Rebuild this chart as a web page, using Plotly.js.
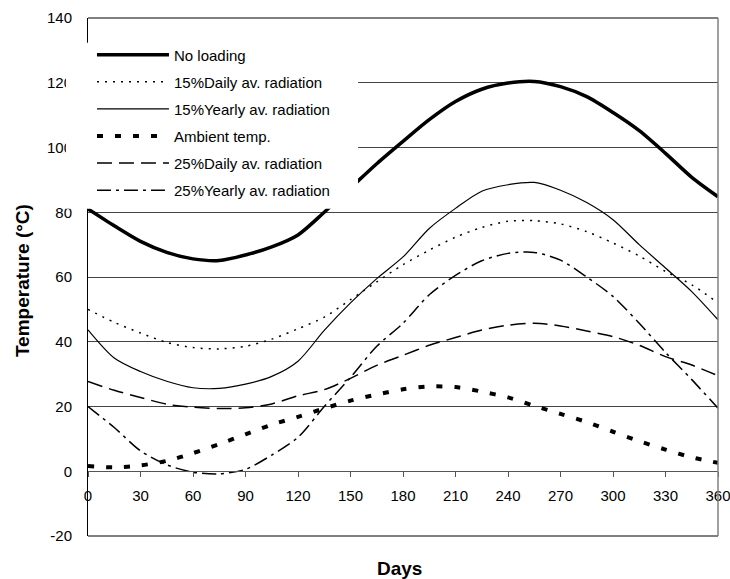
<!DOCTYPE html>
<html>
<head>
<meta charset="utf-8">
<script src="https://cdn.plot.ly/plotly-3.0.1.min.js"></script>
<style>html,body{margin:0;padding:0;background:#fff;}#chart{width:730px;height:579px;}</style>
</head>
<body>
<div id="chart"></div>
<script>
// Days of the year (x values)
var days = [0,15,30,45,60,75,90,105,120,135,150,165,180,195,210,225,240,255,270,285,300,315,330,345,360];

// Temperatures (°C)
var noLoading   = [81,75.8,71,67.6,65.6,65.1,66.8,69.3,73,80,87.5,95,101.9,108.6,114.2,118,119.9,120.4,118.8,115.7,110.8,105.2,98.2,90.8,84.8];
var daily15     = [50,46,42.7,39.8,38.2,37.8,38.6,40.8,44,47.6,53,58.5,63.8,68.3,72.3,75.3,77.2,77.4,76.4,74,70.5,66.5,61.7,57.6,52];
var yearly15    = [43.7,35,30.8,27.8,25.8,25.6,26.9,29.3,34,43.5,52,59.5,66.2,75,81.2,86.5,88.5,89.2,86.8,83,77.7,70,62.8,55.5,46.8];
var ambient     = [1.6,1.2,1.8,3.2,5.6,8.4,11.4,14.4,16.8,19.4,21.8,23.7,25.3,26.2,26,24.6,22.8,20.2,17.7,15.2,12.2,9.3,6.7,4.3,2.6];
var daily25     = [27.7,25,22.8,20.7,19.8,19.4,19.6,20.8,23.3,25.2,28.7,32.7,35.8,38.9,41.3,43.6,45.1,45.7,44.9,43.3,41.6,38.9,35.4,32.8,29.5];
var yearly25    = [20,13.5,6.3,2,-0.3,-0.8,0.6,5,10.5,20,29,38.6,45.7,54.5,60.5,65,67.3,67.6,65.2,60,54,45.7,36.7,28.3,19.5];

var seriesNames = ["No loading","15%Daily av. radiation","15%Yearly av. radiation","Ambient temp.","25%Daily av. radiation","25%Yearly av. radiation"];
var xTicks = [0,30,60,90,120,150,180,210,240,270,300,330,360];
var yTicks = [-20,0,20,40,60,80,100,120,140];
var xTitle = "Days";
var yTitle = "Temperature (°C)";

var FONT = "'Liberation Sans', Arial, sans-serif";

function tr(y, name, width, dash, grp) {
  return {
    x: days, y: y, name: name, type: 'scatter', mode: 'lines',
    legendgroup: grp,
    line: {color: '#000', width: width, dash: dash, shape: 'spline', smoothing: 0.8}
  };
}

var data = [
  tr(noLoading, seriesNames[0], 3.5, 'solid', 'g1'),
  tr(daily15,   seriesNames[1], 1.5, '2px,6px', 'g2'),
  tr(yearly15,  seriesNames[2], 1.2, 'solid', 'g3'),
  tr(ambient,   seriesNames[3], 4,   '6px,12px', 'g4'),
  tr(daily25,   seriesNames[4], 1.5, '15px,7px', 'g5'),
  tr(yearly25,  seriesNames[5], 1.5, '14px,5px,3px,5px', 'g6')
];

var layout = {
  width: 730, height: 579,
  margin: {l: 88, r: 12, t: 18, b: 43, pad: 0},
  paper_bgcolor: '#fff', plot_bgcolor: '#fff',
  font: {family: FONT, size: 15, color: '#000'},
  showlegend: true,
  legend: {
    x: 0.0063, y: 0.9606, xanchor: 'left', yanchor: 'top',
    bgcolor: 'rgba(0,0,0,0)', borderwidth: 0,
    font: {family: FONT, size: 15, color: '#000'},
    itemwidth: 72, tracegroupgap: 4.6, traceorder: 'grouped'
  },
  xaxis: {
    range: [0, 360], tickvals: xTicks, ticktext: xTicks.map(String),
    anchor: 'free', position: 0.125,
    showline: true, linecolor: '#555', linewidth: 1,
    ticks: 'outside', ticklen: 5, tickcolor: '#555', tickwidth: 1,
    showgrid: false, zeroline: false,
    tickfont: {family: FONT, size: 15, color: '#000'},
    ticklabelstandoff: 6, ticklabeloverflow: 'allow'
  },
  yaxis: {
    range: [-20, 140], tickvals: yTicks, ticktext: yTicks.map(String),
    showline: true, linecolor: '#000', linewidth: 1,
    ticks: '', showgrid: true, gridcolor: '#444', gridwidth: 1,
    zeroline: false,
    tickfont: {family: FONT, size: 15, color: '#000'},
    ticklabelstandoff: 12
  },
  shapes: [
    {type: 'line', xref: 'paper', yref: 'paper', x0: 0, x1: 1, y0: 1, y1: 1, line: {color: '#000', width: 1}},
    {type: 'line', xref: 'paper', yref: 'paper', x0: 0, x1: 1, y0: 0, y1: 0, line: {color: '#000', width: 1}},
    {type: 'line', xref: 'paper', yref: 'paper', x0: 1, x1: 1, y0: 0, y1: 1, line: {color: '#808080', width: 1.5}, layer: 'above'},
    {type: 'rect', xref: 'paper', yref: 'paper', x0: -0.035, x1: 0.4286, y0: 0.6316, y1: 0.952,
     fillcolor: '#fff', line: {width: 0}, layer: 'above'}
  ],
  annotations: [
    {text: '<b>' + xTitle + '</b>', xref: 'paper', yref: 'paper', x: 0.495, y: -0.0624,
     xanchor: 'center', yanchor: 'middle', showarrow: false, font: {family: FONT, size: 19, color: '#000'}},
    {text: '<b>' + yTitle + '</b>', xref: 'paper', yref: 'paper', x: -0.1048, y: 0.494,
     xanchor: 'center', yanchor: 'middle', textangle: -90, showarrow: false, font: {family: FONT, size: 19, color: '#000'}}
  ]
};

Plotly.newPlot('chart', data, layout, {displayModeBar: false, staticPlot: true});
</script>
</body>
</html>
